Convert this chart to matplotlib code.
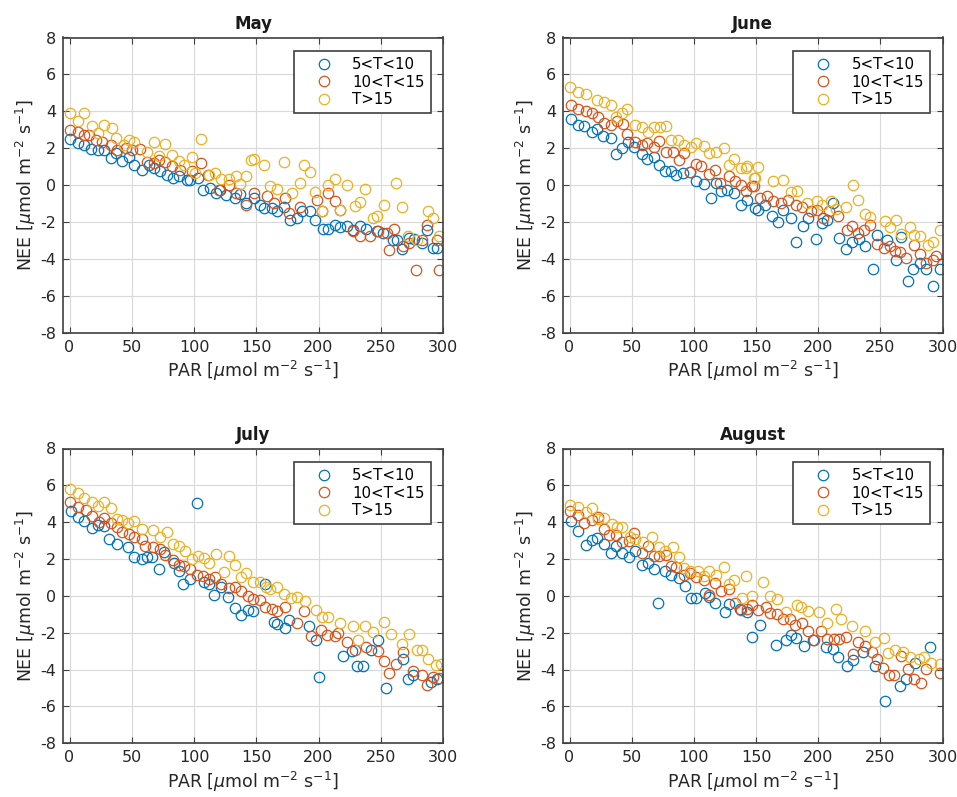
import matplotlib
matplotlib.use("Agg")
import matplotlib.pyplot as plt

plt.rcParams['font.family'] = ['DejaVu Sans']
plt.rcParams['axes.unicode_minus'] = False

labels = ['5<T<10', '10<T<15', 'T>15']
colors = ['#0072BD', '#D95319', '#EDB120']
months = ['May', 'June', 'July', 'August']

# ---------------- May ----------------
may_b_x = [0, 7, 11.5, 17, 23, 28, 33, 37, 42, 48, 52, 58, 64, 68, 73, 78, 83, 88, 94, 97, 103, 107, 113, 118, 121, 126, 133, 137, 142, 148,
           153, 156, 163, 167, 172, 177, 183, 187, 193, 197, 204, 208, 213, 217, 223, 228, 233, 238, 247, 252, 260, 263, 267, 273, 277, 283, 287, 292, 295]
may_b_y = [2.49, 2.27, 2.18, 1.95, 1.88, 1.88, 1.46, 1.73, 1.32, 1.55, 1.10, 0.83, 1.10, 0.92, 0.74, 0.56, 0.38, 0.5, 0.29, 0.29, 0.38, -0.25, -0.16, -0.43, -0.25, -0.56, -0.7, -0.47, -0.97, -0.7,
           -1.06, -1.25, -1.25, -1.43, -1.16, -1.91, -1.79, -1.43, -1.43, -1.88, -2.36, -2.36, -2.15, -2.27, -2.24, -2.42, -2.2, -2.38, -2.51, -2.6, -2.96, -2.96, -3.47, -2.87, -2.92, -3.14, -2.42, -3.41, -3.41]
may_r_x = [0, 7, 11.5, 15.5, 21, 26, 33, 38, 45, 50, 57, 62, 68, 72, 77, 82, 89, 98, 106, 111, 120, 128, 134, 142, 148,
           159, 164, 173, 176, 185, 199, 203, 208, 213, 217, 228, 233, 241, 248, 255, 257, 261, 268, 273, 278, 283, 287, 295, 297]
may_r_y = [3.0, 2.87, 2.73, 2.73, 2.42, 2.36, 2.18, 1.91, 2.0, 1.88, 1.97, 1.25, 1.19, 1.37, 1.23, 1.01, 0.83, 0.74, 1.19, 0.56, -0.25, 0.02, -0.43, -1.06, -0.43,
           -0.61, -0.97, -0.7, -1.52, -1.16, -0.79, -1.43, -0.43, -0.88, -1.34, -2.51, -2.78, -2.78, -2.51, -2.6, -3.5, -2.38, -3.32, -3.14, -4.62, -3.0, -2.15, -3.0, -4.62]
may_y_x = [0, 7, 12, 18, 23, 28, 34, 37, 44, 48, 52, 62, 68, 72, 77, 82, 88, 92, 98, 101, 106, 112, 117, 122, 128, 134, 137, 142, 146,
           148, 156, 161, 167, 172, 179, 185, 188, 193, 197, 203, 208, 213, 217, 223, 229, 233, 237, 244, 247, 253, 262, 267, 272, 279, 288, 292, 297]
may_y_y = [3.9, 3.45, 3.9, 3.18, 2.85, 3.27, 3.09, 2.55, 2.18, 2.45, 2.36, 1.77, 2.36, 1.59, 2.24, 1.64, 1.32, 1.10, 1.55, 0.65, 2.49, 0.56, 0.65, 0.32, 0.32, 0.47, 0.07, 0.47, 1.37,
           1.41, 1.10, -0.07, -0.22, 1.25, -0.43, 0.11, 1.10, 0.69, -0.40, -1.43, 0.02, 0.32, -1.34, 0.02, -1.12, -0.94, -0.22, -1.79, -1.70, -1.06, 0.11, -1.19, -2.78, -3.0, -1.43, -1.79, -2.74]

# ---------------- June ----------------
jun_b_x = [1, 7, 12, 18, 22, 27, 33, 37, 42, 47, 52, 58, 62, 68, 72, 77, 82, 86, 91, 97, 102, 108, 114, 118, 122, 127, 132, 138, 143, 149,
           152, 157, 163, 168, 172, 178, 182, 188, 192, 198, 203, 207, 212, 217, 222, 227, 233, 238, 244, 247, 255, 263, 267, 272, 276, 282, 287, 292, 298]
jun_b_y = [3.57, 3.27, 3.18, 2.9, 3.03, 2.64, 2.55, 1.70, 2.0, 2.36, 2.09, 1.70, 1.41, 1.55, 1.10, 0.74, 0.74, 0.56, 0.65, 0.69, 0.2, 0.07, -0.7, 0.11, -0.34, -0.25, -0.43, -1.1, -0.79, -1.25,
           -1.34, -1.06, -1.66, -2.0, -1.37, -1.79, -3.09, -2.24, -1.79, -2.9, -2.06, -1.88, -0.97, -2.87, -3.45, -3.1, -2.9, -3.29, -4.53, -2.69, -3.0, -4.08, -2.82, -5.22, -4.55, -4.22, -4.53, -5.45, -4.53]
jun_r_x = [1, 7, 13, 18, 23, 28, 33, 38, 43, 46, 53, 58, 62, 68, 72, 78, 83, 88, 92, 97, 102, 106, 112, 117, 121, 128, 133, 138, 142, 147,
           148, 153, 159, 164, 170, 176, 182, 187, 194, 199, 204, 209, 216, 223, 227, 232, 237, 242, 247, 253, 258, 262, 266, 271, 277, 282, 287, 292, 295]
jun_r_y = [4.35, 4.13, 4.04, 3.9, 3.68, 3.36, 3.27, 3.5, 3.32, 2.78, 2.36, 2.18, 2.27, 2.09, 2.4, 1.77, 1.77, 1.37, 1.73, 0.69, 1.16, 1.05, 0.61, 0.83, 0.14, 0.52, 0.2, 0.02, -0.34, -0.07,
           -0.04, -0.7, -0.61, -0.88, -0.97, -0.79, -1.06, -1.16, -1.43, -1.34, -1.79, -1.43, -1.70, -2.42, -2.24, -2.6, -2.42, -2.15, -3.19, -3.41, -3.32, -3.56, -3.65, -3.95, -3.23, -3.72, -4.22, -4.04, -3.83]
jun_y_x = [0, 7, 13, 22, 28, 33, 37, 42, 46, 53, 58, 63, 68, 73, 78, 82, 87, 92, 98, 102, 108, 112, 118, 124, 128, 132, 138, 142, 148,
           143, 149, 152, 164, 172, 178, 183, 191, 199, 203, 210, 214, 222, 228, 232, 238, 242, 254, 258, 263, 267, 274, 277, 282, 288, 292, 298]
jun_y_y = [5.34, 5.02, 4.95, 4.62, 4.48, 4.35, 3.68, 3.9, 4.13, 3.27, 3.14, 2.9, 3.14, 3.14, 3.18, 2.45, 2.42, 2.18, 2.09, 2.27, 2.13, 1.73, 1.77, 2.0, 1.10, 1.41, 0.92, 0.92, 0.38,
           1.01, 0.38, 0.97, 0.2, 0.29, -0.40, -0.34, -0.97, -0.88, -1.06, -0.88, -1.3, -1.16, 0.02, -0.79, -1.55, -1.73, -1.97, -2.27, -1.91, -2.64, -2.27, -2.69, -2.74, -3.23, -3.1, -2.42]

# ---------------- July ----------------
jul_b_x = [1, 7, 12, 18, 23, 28, 32, 38, 47, 52, 58, 62, 66, 72, 76, 84, 88, 91, 97, 102, 108, 112, 116, 122, 127, 133, 138, 143, 147,
           157, 164, 167, 173, 176, 192, 198, 200, 220, 227, 231, 236, 242, 248, 254, 268, 272, 276, 290, 295]
jul_b_y = [4.61, 4.30, 4.09, 3.67, 3.85, 3.80, 3.09, 2.82, 2.64, 2.10, 2.0, 2.10, 2.10, 1.46, 2.40, 1.81, 1.37, 0.65, 0.90, 5.03, 0.74, 0.65, 0.05, 0.51, -0.04, -0.67, -1.03, -0.76, -0.8,
           0.65, -1.39, -1.52, -1.75, -1.30, -1.66, -2.39, -4.41, -3.25, -2.97, -3.83, -3.83, -2.93, -2.39, -5.01, -3.44, -4.52, -4.29, -4.70, -4.52]
jul_r_x = [0, 7, 13, 18, 24, 28, 33, 38, 42, 48, 52, 58, 61, 67, 73, 77, 83, 88, 92, 97, 102, 107, 112, 117, 122, 128, 133, 138, 143, 147,
           153, 157, 163, 167, 173, 183, 188, 194, 202, 207, 213, 216, 223, 229, 238, 248, 253, 257, 262, 268, 276, 283, 287, 292, 297]
jul_r_y = [5.12, 4.85, 4.67, 4.34, 4.03, 4.21, 3.94, 3.73, 3.49, 3.36, 3.18, 3.07, 2.71, 2.64, 2.53, 2.22, 1.95, 1.68, 1.63, 1.45, 1.14, 1.09, 0.90, 1.01, 0.65, 0.42, 0.51, 0.29, 0.02, -0.16,
           -0.22, -0.58, -0.72, -0.80, -0.58, -1.45, -0.80, -2.2, -1.84, -2.12, -2.2, -1.99, -2.48, -2.93, -2.78, -2.97, -3.51, -4.20, -3.69, -3.02, -4.05, -4.29, -4.83, -4.41, -4.47]
jul_y_x = [0, 7, 12, 18, 23, 28, 33, 38, 42, 47, 52, 58, 67, 73, 78, 83, 88, 93, 98, 103, 108, 112, 118, 124, 128, 133, 138, 142, 147,
           153, 158, 161, 167, 172, 178, 183, 189, 198, 203, 208, 217, 228, 232, 237, 244, 253, 258, 267, 273, 279, 283, 288, 294, 298]
jul_y_y = [5.79, 5.57, 5.30, 5.12, 4.88, 5.12, 4.79, 4.18, 4.12, 3.94, 4.07, 3.62, 3.58, 3.22, 3.49, 2.82, 2.71, 2.46, 1.99, 2.17, 2.04, 1.77, 2.28, 1.32, 2.17, 1.68, 1.01, 1.23, 0.78,
           0.74, 0.47, 0.38, 0.47, 0.11, -0.11, -0.04, -0.26, -0.76, -1.16, -1.16, -1.48, -1.64, -2.42, -1.64, -1.97, -1.43, -2.06, -2.62, -2.06, -2.95, -2.95, -3.44, -3.74, -3.67]

# ---------------- August ----------------
aug_b_x = [1, 7, 13, 18, 22, 28, 33, 37, 42, 48, 53, 58, 63, 68, 71, 77, 82, 88, 93, 98, 102, 109, 112, 117, 125, 128, 137, 143, 147,
           153, 166, 174, 178, 182, 189, 196, 206, 212, 216, 223, 228, 236, 246, 254, 266, 271, 278, 290]
aug_b_y = [4.07, 3.54, 2.77, 3.04, 3.16, 2.82, 2.35, 2.71, 2.35, 2.10, 2.46, 1.68, 1.77, 1.45, -0.40, 1.37, 1.14, 0.96, 0.54, -0.13, -0.13, 0.18, -0.07, -0.36, -0.90, -0.43, -0.72, -0.90, -2.24,
           -1.57, -2.66, -2.42, -2.12, -2.30, -2.71, -2.42, -2.78, -2.89, -3.33, -3.80, -3.47, -3.07, -3.83, -5.73, -4.88, -4.52, -3.62, -2.78]
aug_r_x = [0, 7, 12, 18, 23, 28, 32, 37, 42, 48, 52, 58, 63, 68, 72, 78, 82, 86, 92, 97, 102, 108, 112, 117, 122, 128, 133, 138, 143, 147,
           152, 158, 161, 167, 172, 177, 181, 187, 192, 197, 202, 207, 213, 217, 222, 228, 232, 238, 243, 247, 252, 257, 261, 267, 272, 277, 283, 287, 298]
aug_r_y = [4.61, 4.39, 3.98, 4.12, 4.27, 3.62, 3.31, 3.31, 2.95, 3.00, 3.44, 2.31, 2.71, 2.17, 2.17, 2.22, 1.63, 1.55, 1.14, 1.27, 1.01, 0.87, 0.05, 0.72, 0.29, 0.36, -0.36, -0.76, -0.72, -0.49,
           -0.76, -0.58, -0.94, -0.98, -1.27, -1.27, -1.57, -1.45, -1.88, -2.39, -1.93, -2.35, -2.35, -2.35, -2.24, -3.15, -2.48, -2.71, -3.07, -3.44, -3.92, -4.29, -4.29, -3.25, -3.98, -4.52, -4.74, -3.98, -4.16]
aug_y_x = [0, 7, 13, 18, 23, 28, 34, 38, 42, 49, 53, 59, 66, 72, 77, 83, 88, 92, 97, 103, 108, 112, 118, 124, 128, 132, 139, 142, 147,
           156, 161, 167, 174, 183, 186, 192, 201, 207, 214, 218, 227, 238, 246, 253, 256, 262, 268, 274, 281, 285, 291, 298]
aug_y_y = [4.94, 4.85, 4.57, 4.76, 4.16, 4.21, 3.91, 3.73, 3.73, 3.22, 3.07, 2.95, 3.18, 2.64, 2.46, 2.64, 2.10, 1.50, 1.37, 1.37, 1.09, 1.37, 1.14, 1.55, 0.65, 0.87, -0.13, 1.09, 0.0,
           0.78, 0.0, -0.18, -0.90, -0.49, -0.58, -0.80, -0.90, -1.45, -0.72, -1.27, -1.63, -1.88, -2.48, -2.30, -3.11, -2.93, -3.02, -3.33, -3.44, -3.29, -3.65, -3.69]

data = [
    [(may_b_x, may_b_y), (may_r_x, may_r_y), (may_y_x, may_y_y)],
    [(jun_b_x, jun_b_y), (jun_r_x, jun_r_y), (jun_y_x, jun_y_y)],
    [(jul_b_x, jul_b_y), (jul_r_x, jul_r_y), (jul_y_x, jul_y_y)],
    [(aug_b_x, aug_b_y), (aug_r_x, aug_r_y), (aug_y_x, aug_y_y)],
]

W, H = 957, 797
fig = plt.figure(figsize=(W / 100, H / 100), dpi=100)

# axes pixel boxes: left, right, top, bottom
boxes = [(63.3, 443, 37.5, 332.7), (563.3, 942.5, 37.5, 332.7),
         (63.3, 443, 448.5, 743.3), (563.3, 942.5, 448.5, 743.3)]

axcol = '#404040'
for i, (l, r, t, b) in enumerate(boxes):
    ax = fig.add_axes([l / W, 1 - b / H, (r - l) / W, (b - t) / H])
    for (xs, ys), c, lab in zip(data[i], colors, labels):
        ax.plot(xs, ys, 'o', ms=7.5, mfc='none', mec=c, mew=0.9, label=lab)
    ax.set_xlim(-5, 300)
    ax.set_ylim(-8, 8)
    ax.set_xticks(range(0, 301, 50))
    ax.set_yticks(range(-8, 9, 2))
    ax.grid(True, color='#d9d9d9', lw=0.8)
    ax.set_axisbelow(True)
    for s in ax.spines.values():
        s.set_color(axcol)
        s.set_linewidth(1.2)
    ax.tick_params(direction='in', length=4, width=0.8, colors=axcol,
                   labelcolor='#262626', labelsize=11.5, top=True, right=True, pad=5)
    ax.set_title(months[i], fontsize=12, fontweight='bold', color='#1a1a1a', pad=6)
    ax.set_xlabel(r'PAR [$\mu$mol m$^{-2}$ s$^{-1}$]', fontsize=12.5, color='#262626', labelpad=3)
    ax.set_ylabel(r'NEE [$\mu$mol m$^{-2}$ s$^{-1}$]', fontsize=12.5, color='#262626', labelpad=2)
    ax_w = r - l
    ax_h = b - t
    leg = ax.legend(loc='upper right',
                    bbox_to_anchor=((ax_w - 12.5) / ax_w, 1 - 13.5 / ax_h),
                    borderaxespad=0, fontsize=10.8,
                    frameon=True, fancybox=False, edgecolor=axcol, framealpha=1,
                    handletextpad=0.3, borderpad=0.4, labelspacing=0.17, handlelength=3.2,
                    markerscale=1.0)
    leg.get_frame().set_linewidth(1.2)

fig.savefig('out.png', dpi=100)
